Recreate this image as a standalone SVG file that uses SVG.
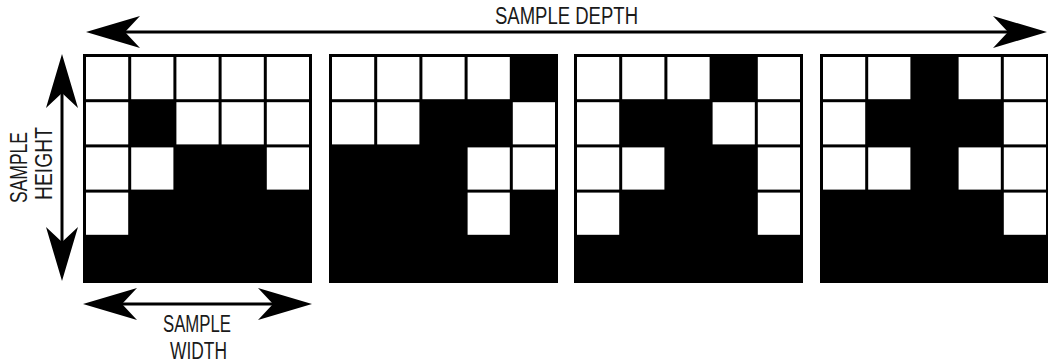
<svg xmlns="http://www.w3.org/2000/svg" width="1048" height="363" viewBox="0 0 1048 363">
<style>
.bg{fill:#000}
.w{fill:#fff}
.lbl{font-family:"Liberation Sans",Arial,sans-serif;font-size:23px;fill:#1a1a1a}
.ln{stroke:#000;stroke-width:3;fill:none}
</style>
<defs>
<marker id="ah" viewBox="0 0 54 32" refX="15" refY="16" markerWidth="54" markerHeight="32" markerUnits="userSpaceOnUse" orient="auto-start-reverse">
<path d="M54,16 L0,0 L15,16 L0,32 Z" fill="#000"/>
</marker>
</defs>
<rect width="1048" height="363" fill="#fff"/>
<g id="grid-1" transform="translate(83,54)">
<rect class="bg" width="229" height="229"/>
<rect class="w" x="3" y="3" width="42.2" height="42.2"/><rect class="w" x="48.2" y="3" width="42.2" height="42.2"/><rect class="w" x="93.4" y="3" width="42.2" height="42.2"/><rect class="w" x="138.6" y="3" width="42.2" height="42.2"/><rect class="w" x="183.8" y="3" width="42.2" height="42.2"/>
<rect class="w" x="3" y="48.2" width="42.2" height="42.2"/><rect class="w" x="93.4" y="48.2" width="42.2" height="42.2"/><rect class="w" x="138.6" y="48.2" width="42.2" height="42.2"/><rect class="w" x="183.8" y="48.2" width="42.2" height="42.2"/>
<rect class="w" x="3" y="93.4" width="42.2" height="42.2"/><rect class="w" x="48.2" y="93.4" width="42.2" height="42.2"/><rect class="w" x="183.8" y="93.4" width="42.2" height="42.2"/>
<rect class="w" x="3" y="138.6" width="42.2" height="42.2"/>
</g>
<g id="grid-2" transform="translate(329,54)">
<rect class="bg" width="229" height="229"/>
<rect class="w" x="3" y="3" width="42.2" height="42.2"/><rect class="w" x="48.2" y="3" width="42.2" height="42.2"/><rect class="w" x="93.4" y="3" width="42.2" height="42.2"/><rect class="w" x="138.6" y="3" width="42.2" height="42.2"/>
<rect class="w" x="3" y="48.2" width="42.2" height="42.2"/><rect class="w" x="48.2" y="48.2" width="42.2" height="42.2"/><rect class="w" x="183.8" y="48.2" width="42.2" height="42.2"/>
<rect class="w" x="138.6" y="93.4" width="42.2" height="42.2"/><rect class="w" x="183.8" y="93.4" width="42.2" height="42.2"/>
<rect class="w" x="138.6" y="138.6" width="42.2" height="42.2"/>
</g>
<g id="grid-3" transform="translate(574,54)">
<rect class="bg" width="229" height="229"/>
<rect class="w" x="3" y="3" width="42.2" height="42.2"/><rect class="w" x="48.2" y="3" width="42.2" height="42.2"/><rect class="w" x="93.4" y="3" width="42.2" height="42.2"/><rect class="w" x="183.8" y="3" width="42.2" height="42.2"/>
<rect class="w" x="3" y="48.2" width="42.2" height="42.2"/><rect class="w" x="138.6" y="48.2" width="42.2" height="42.2"/><rect class="w" x="183.8" y="48.2" width="42.2" height="42.2"/>
<rect class="w" x="3" y="93.4" width="42.2" height="42.2"/><rect class="w" x="48.2" y="93.4" width="42.2" height="42.2"/><rect class="w" x="183.8" y="93.4" width="42.2" height="42.2"/>
<rect class="w" x="3" y="138.6" width="42.2" height="42.2"/><rect class="w" x="183.8" y="138.6" width="42.2" height="42.2"/>
</g>
<g id="grid-4" transform="translate(820,54)">
<rect class="bg" width="229" height="229"/>
<rect class="w" x="3" y="3" width="42.2" height="42.2"/><rect class="w" x="48.2" y="3" width="42.2" height="42.2"/><rect class="w" x="138.6" y="3" width="42.2" height="42.2"/><rect class="w" x="183.8" y="3" width="42.2" height="42.2"/>
<rect class="w" x="3" y="48.2" width="42.2" height="42.2"/><rect class="w" x="183.8" y="48.2" width="42.2" height="42.2"/>
<rect class="w" x="3" y="93.4" width="42.2" height="42.2"/><rect class="w" x="48.2" y="93.4" width="42.2" height="42.2"/><rect class="w" x="138.6" y="93.4" width="42.2" height="42.2"/><rect class="w" x="183.8" y="93.4" width="42.2" height="42.2"/>
<rect class="w" x="183.8" y="138.6" width="42.2" height="42.2"/>
</g>
<g id="connectors">
<line class="ln" x1="125" y1="32" x2="1008" y2="32" marker-start="url(#ah)" marker-end="url(#ah)"/>
<line class="ln" x1="62" y1="93" x2="62" y2="242" marker-start="url(#ah)" marker-end="url(#ah)"/>
<line class="ln" x1="122" y1="304" x2="273" y2="304" marker-start="url(#ah)" marker-end="url(#ah)"/>
</g>
<g id="labels">
<text class="lbl" x="495" y="23.5" textLength="143" lengthAdjust="spacingAndGlyphs">SAMPLE DEPTH</text>
<text class="lbl" transform="translate(27,167.5) rotate(-90)" text-anchor="middle" textLength="71" lengthAdjust="spacingAndGlyphs">SAMPLE</text>
<text class="lbl" transform="translate(52,163.5) rotate(-90)" text-anchor="middle" textLength="73" lengthAdjust="spacingAndGlyphs">HEIGHT</text>
<text class="lbl" x="163" y="331.5" textLength="68" lengthAdjust="spacingAndGlyphs">SAMPLE</text>
<text class="lbl" x="170" y="358.5" textLength="57" lengthAdjust="spacingAndGlyphs">WIDTH</text>
</g>
</svg>
